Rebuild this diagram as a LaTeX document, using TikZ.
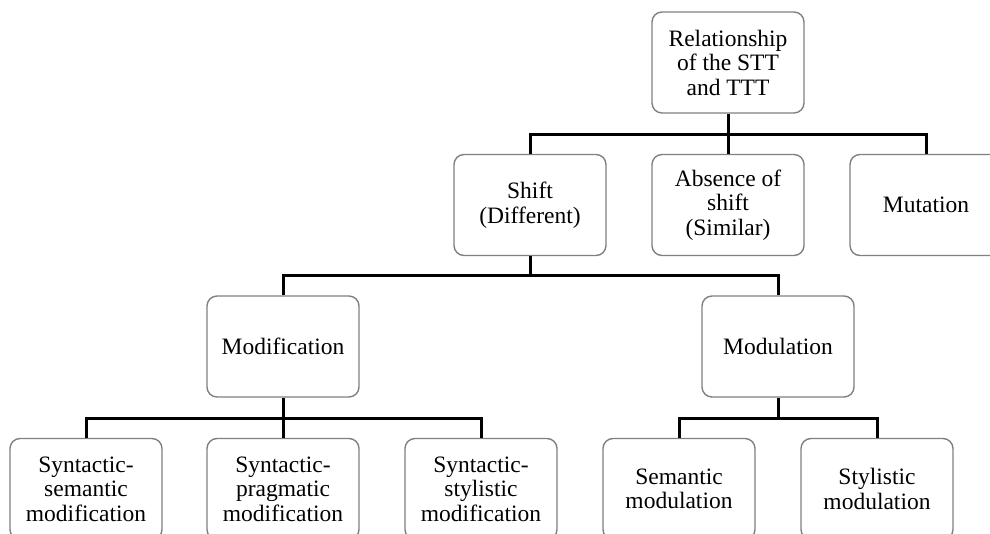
\documentclass[tikz,border=0pt]{standalone}
\usepackage{fontspec}
\setmainfont{Liberation Serif}
\begin{document}
\begin{tikzpicture}[x=1pt,y=-1pt,
  box/.style={draw=black!50, line width=1.4pt, rounded corners=10pt, fill=white,
    minimum width=152pt, minimum height=101pt, align=center, inner sep=2pt,
    font=\fontsize{23.5}{24.5}\selectfont},
  conn/.style={draw=black, line width=3pt, line join=miter}]
  \useasboundingbox (0,0) rectangle (990,534);

  % top level
  \node[box] (root) at (728,62.5) {Relationship\\of the STT\\and TTT};

  % second level
  \node[box] (shift)    at (530,205) {Shift\\(Different)};
  \node[box] (absence)  at (728,205) {Absence of\\shift\\(Similar)};
  \node[box] (mutation) at (926,205) {Mutation};

  % third level
  \node[box] (modif) at (283,346.5) {Modification};
  \node[box] (modul) at (778,346.5) {Modulation};

  % fourth level
  \node[box] (synsem) at (86,489)  {Syntactic-\\semantic\\modification};
  \node[box] (synpra) at (283,489) {Syntactic-\\pragmatic\\modification};
  \node[box] (synsty) at (481,489) {Syntactic-\\stylistic\\modification};
  \node[box] (semmod) at (679,489) {Semantic\\modulation};
  \node[box] (stymod) at (877,489) {Stylistic\\modulation};

  % bus heights
  \coordinate (busA) at (0,135);
  \coordinate (busB) at (0,276);
  \coordinate (busC) at (0,418);

  % connectors
  \draw[conn] (root.south) -- (absence.north);
  \draw[conn] (shift.north) |- (root.south |- busA) -| (mutation.north);

  \draw[conn] (modif.north) |- (shift.south |- busB) -| (modul.north);
  \draw[conn] (shift.south) -- (shift.south |- busB);

  \draw[conn] (modif.south) -- (synpra.north);
  \draw[conn] (synsem.north) |- (modif.south |- busC) -| (synsty.north);

  \draw[conn] (semmod.north) |- (modul.south |- busC) -| (stymod.north);
  \draw[conn] (modul.south) -- (modul.south |- busC);
\end{tikzpicture}
\end{document}
